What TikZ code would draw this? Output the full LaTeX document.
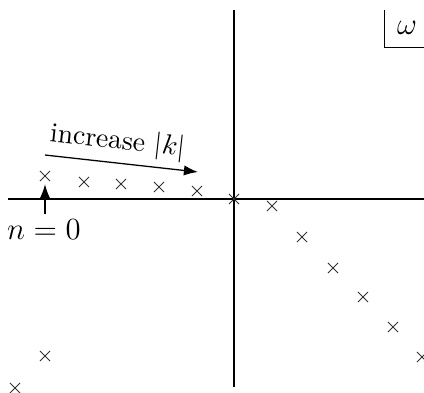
\documentclass[tikz,border=0pt]{standalone}
\usepackage{amsmath,amssymb}
\usetikzlibrary{arrows.meta,shapes.misc}

\begin{document}
\begin{tikzpicture}[x=0.39pt,y=-0.39pt,
    pole/.style={cross out,draw=black!80,minimum size=3.6pt,inner sep=0pt,line width=0.35pt},
    axisline/.style={draw=black,line width=0.55pt},
    plabel/.style={inner sep=1pt},
    parrow/.style={-{Latex[length=5.5pt,width=4pt]},line width=0.5pt}
]
\useasboundingbox (0,0) rectangle (424,392);
% axes
\coordinate (xl) at (8,199);
\coordinate (xr) at (424,199);
\coordinate (yt) at (234,10);
\coordinate (yb) at (234,387);
\draw[axisline] (xl)--(xr);
\draw[axisline] (yt)--(yb);
% omega box
\node[minimum width=15.2pt,minimum height=14.4pt,inner sep=0pt] (wlab) at (404.5,28.5) {};
\node (w) at (407,28) {\large$\omega$};
\draw[line width=0.45pt] (wlab.north west) |- (wlab.south east);
% poles
\node[pole] (p0) at (45,176) {};
\foreach \x/\y [count=\i] in {84/182,121/184,159/187,197/191}
    \node[pole] (p\i) at (\x,\y) {};
\node[pole] (org) at (234,199) {};
\foreach \x/\y [count=\i] in {272/206,302/237,333/268,363/297,393/327,422/357}
    \node[pole] (q\i) at (\x,\y) {};
\node[pole] (s1) at (45,356) {};
\node[pole] (s2) at (15,388) {};
% labels
\coordinate (ka) at (45,155);
\coordinate (kb) at (198,172);
\draw[parrow] (ka)--node[above,sloped,pos=0.46,inner sep=2.5pt,
    font=\fontsize{10.8}{13}\selectfont] {increase $|k|$}(kb);
\node[plabel] (n0) at (44,230) {\large$n=0$};
\coordinate (n0top) at (45,214);
\draw[parrow] (n0top)--([yshift=-1.2pt]p0.south);
\end{tikzpicture}
\end{document}
